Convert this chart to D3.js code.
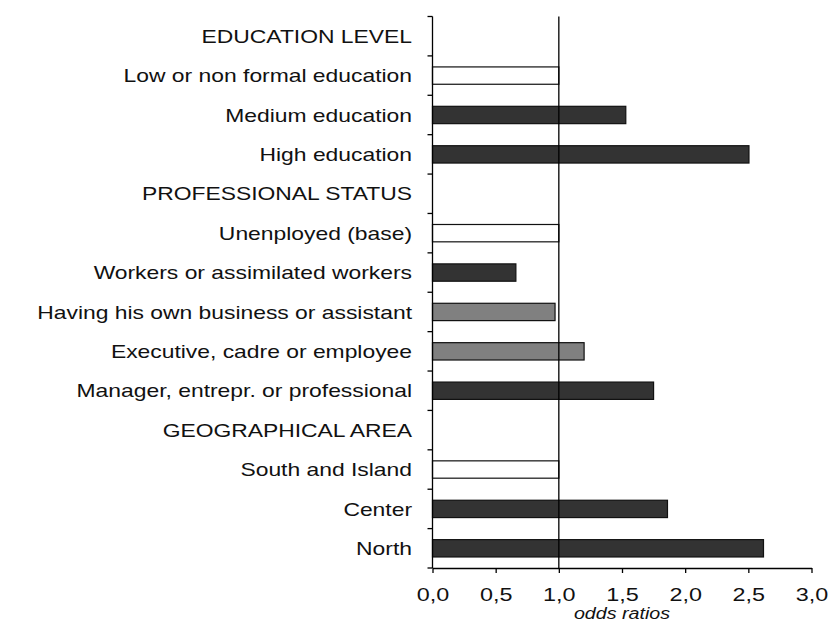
<!DOCTYPE html>
<html><head><meta charset="utf-8">
<script src="https://cdn.jsdelivr.net/npm/d3@7/dist/d3.min.js"></script>
<style>body{margin:0;background:#fff}svg{display:block}</style>
</head><body>
<script>
const categories = ["EDUCATION LEVEL","Low or non formal education","Medium education","High education",
  "PROFESSIONAL STATUS","Unenployed (base)","Workers or assimilated workers","Having his own business or assistant",
  "Executive, cadre or employee","Manager, entrepr. or professional","GEOGRAPHICAL AREA","South and Island","Center","North"];
const values = [null,1.0,1.53,2.505,null,1.0,0.66,0.97,1.2,1.75,null,1.0,1.86,2.62];
const kinds = [null,"base","sig",'sig',null,"base","sig","ns","ns","sig",null,"base","sig","sig"];
const xTicks = [0,0.5,1.0,1.5,2.0,2.5,3.0];
const xTitle = "odds ratios";

const W=831,H=623;
const FONT="Liberation Sans, Arial, sans-serif";
const SX=1.23;
const svg=d3.select("body").append("svg").attr("width",W).attr("height",H);
const x=d3.scaleLinear().domain([0,3]).range([432.5,811.5]);
const y=d3.scaleBand().domain(categories).range([16.5,568]).paddingInner(0.56).paddingOuter(0.28);
const fill={base:"#ffffff",sig:"#333333",ns:"#808080"};

const idx=categories.map((c,i)=>i).filter(i=>values[i]!==null);
svg.selectAll("rect.bar").data(idx).join("rect").attr("class","bar")
  .attr("x",x(0)).attr("y",i=>y(categories[i]))
  .attr("width",i=>x(values[i])-x(0)).attr("height",y.bandwidth())
  .attr("fill",i=>fill[kinds[i]]).attr("stroke","#111").attr("stroke-width",1.2);

// reference line at 1
svg.append("line").attr("x1",x(1)).attr("x2",x(1)).attr("y1",16.5).attr("y2",568)
  .attr("stroke","#000").attr("stroke-width",1.3);

// y axis
const step=(568-16.5)/categories.length;
svg.append("line").attr("x1",x(0)).attr("x2",x(0)).attr("y1",16.5).attr("y2",568).attr("stroke","#000").attr("stroke-width",1.3);
const yt=d3.range(categories.length+1).map(k=>16.5+k*step);
svg.selectAll("line.yt").data(yt).join("line").attr("class","yt")
  .attr("x1",x(0)-5).attr("x2",x(0)).attr("y1",d=>d).attr("y2",d=>d).attr("stroke","#000").attr("stroke-width",1.3);
svg.selectAll("text.yl").data(categories).join("text").attr("class","yl")
  .attr("transform",d=>`translate(412,${y(d)+y.bandwidth()/2}) scale(${SX},1)`)
  .attr("dy","0.36em")
  .attr("text-anchor","end").attr("font-family",FONT)
  .attr("font-size",18.6).attr("fill","#111").text(d=>d);

// x axis
const xa=svg.append("g").attr("transform","translate(0,568)")
  .call(d3.axisBottom(x).tickValues(xTicks).tickSize(5).tickSizeOuter(0).tickFormat(d=>d3.format(".1f")(d).replace(".",",")));
xa.select(".domain").attr("stroke","#000").attr("stroke-width",1.3);
xa.selectAll(".tick line").attr("stroke","#000").attr("stroke-width",1.3);
xa.selectAll(".tick text").attr("font-family",FONT).attr("font-size",19).attr("fill","#111")
  .attr("y",null).attr("dy",null).attr("transform",`translate(0,33) scale(${SX},1)`);
svg.append("text").attr("transform",`translate(${x(1.5)},619) scale(${SX},1)`).attr("text-anchor","middle")
  .attr("font-family",FONT).attr("font-style","italic").attr("font-size",16).attr("fill","#111").text(xTitle);
</script>
</body></html>
